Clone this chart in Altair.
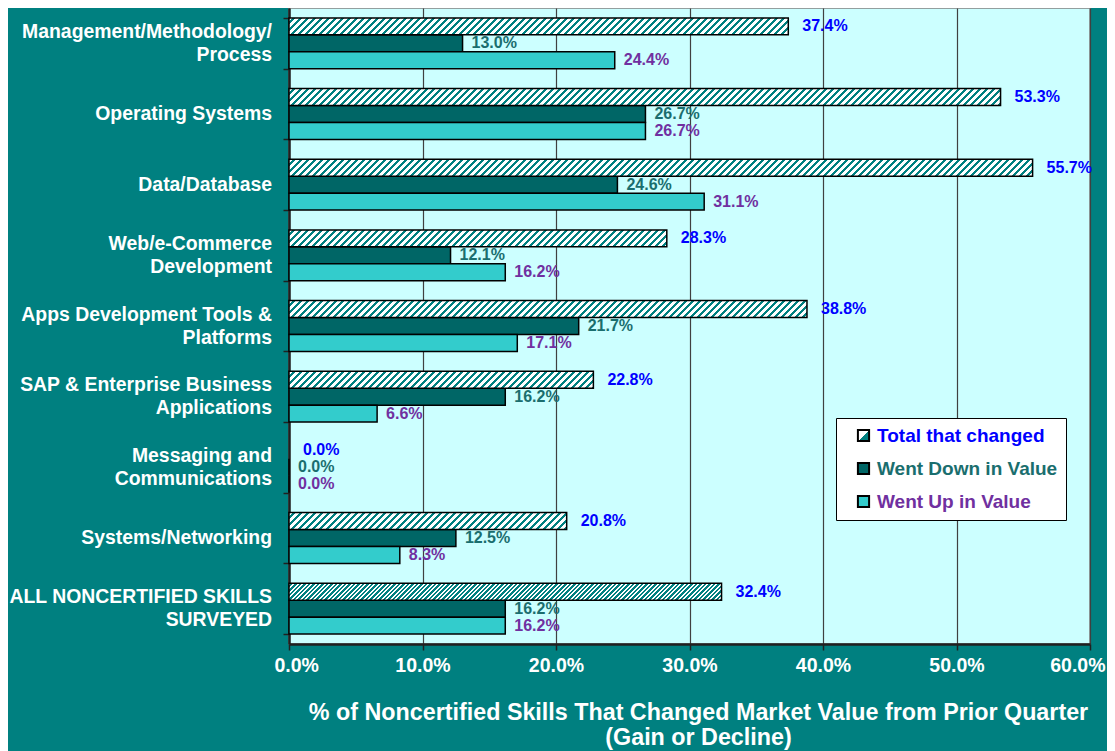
import altair as alt
import pandas as pd

categories = [
    "Management/Methodology/\nProcess",
    "Operating Systems",
    "Data/Database",
    "Web/e-Commerce\nDevelopment",
    "Apps Development Tools &\nPlatforms",
    "SAP & Enterprise Business\nApplications",
    "Messaging and\nCommunications",
    "Systems/Networking",
    "ALL NONCERTIFIED SKILLS\nSURVEYED",
]
total_changed = [37.4, 53.3, 55.7, 28.3, 38.8, 22.8, 0.0, 20.8, 32.4]
went_down = [13.0, 26.7, 24.6, 12.1, 21.7, 16.2, 0.0, 12.5, 16.2]
went_up = [24.4, 26.7, 31.1, 16.2, 17.1, 6.6, 0.0, 8.3, 16.2]
series_names = ["Total that changed", "Went Down in Value", "Went Up in Value"]
x_ticks = [0, 10, 20, 30, 40, 50, 60]

# style constants
BG = "#008080"
PLOT_BG = "#CCFFFF"
HATCH = "#008080"
DOWN_COL = "#006666"
UP_COL = "#33CCCC"
LBL_TOTAL = "#0000FF"
LBL_DOWN = "#1A6E6E"
LBL_UP = "#7030A0"
FONT = "Liberation Sans"
W, H = 801, 636
X_MAX = 60
P_IN, P_OUT = 0.28, 0.14

rows = []
for i, c in enumerate(categories):
    for s, vals in zip(series_names, [total_changed, went_down, went_up]):
        rows.append({"row": i, "category": c, "series": s, "value": vals[i]})
df = pd.DataFrame(rows)

step = H / (len(categories) - P_IN + 2 * P_OUT)
bar_h = step * (1 - P_IN) / 3


def hatch_gradient(value, period, dark_frac, light="#FFFFFF", dark=HATCH):
    w = value / X_MAX * W
    h = bar_h
    L = w + h * h / w
    a = (w + h) / L
    span = w + h
    stops = []
    k = 0
    while True:
        t0 = k * period / span
        if t0 >= 1:
            break
        th = min(1.0, t0 + period * (1 - dark_frac) / span)
        t1 = min(1.0, t0 + period / span)
        stops += [
            {"offset": round(t0, 5), "color": light},
            {"offset": round(th, 5), "color": light},
            {"offset": round(th, 5), "color": dark},
            {"offset": round(t1, 5), "color": dark},
        ]
        k += 1
    return {"gradient": "linear", "x1": 0, "y1": 0, "x2": a, "y2": a * h / w, "stops": stops}


y_enc = alt.Y(
    "category:N",
    sort=categories,
    scale=alt.Scale(domain=categories, paddingInner=P_IN, paddingOuter=P_OUT),
    axis=alt.Axis(
        title=None,
        labels=False,
        tickBand="extent",
        tickSize=6,
        tickColor="#202020",
        tickWidth=1.5,
        domainColor="#202020",
        domainWidth=2.5,
        grid=False,
    ),
)
yoff_enc = alt.YOffset(
    "series:N", scale=alt.Scale(domain=series_names, paddingInner=0, paddingOuter=0)
)
x_enc = alt.X(
    "value:Q",
    scale=alt.Scale(domain=[0, X_MAX], nice=False, zero=True),
    axis=alt.Axis(
        values=x_ticks,
        labelExpr="format(datum.value, '.1f') + '%'",
        labelColor="white",
        labelFont=FONT,
        labelFontSize=19.5,
        labelFontWeight="bold",
        labelPadding=6,
        labelBaseline="top",
        labelFlush=True,
        labelFlushOffset=15,
        tickSize=6,
        tickColor="#202020",
        tickWidth=1.5,
        domainColor="#202020",
        domainWidth=2.5,
        grid=True,
        gridColor="#404040",
        gridWidth=1.2,
        title=["% of Noncertified Skills That Changed Market Value from Prior Quarter", "(Gain or Decline)"],
        titleColor="white",
        titleFont=FONT,
        titleFontSize=23.3,
        titleFontWeight="bold",
        titleLineHeight=25,
        titleAlign="center",
        titleBaseline="top",
        titleX=409,
        titleY=57,
    ),
)

base = alt.Chart(df)

legend_label_fill = (
    "datum.value === 'Total that changed' ? '%s' : (datum.value === 'Went Down in Value' ? '%s' : '%s')"
    % (LBL_TOTAL, LBL_DOWN, LBL_UP)
)
total_icon = (
    "{gradient: 'linear', x1: 0, y1: 0, x2: 1, y2: 1, "
    "stops: [{offset: 0, color: '#ffffff'}, {offset: 0.5, color: '#ffffff'}, "
    "{offset: 0.5, color: '%s'}, {offset: 1, color: '%s'}]}" % (HATCH, HATCH)
)

bars_du = base.transform_filter(
    alt.FieldOneOfPredicate(field="series", oneOf=series_names[1:])
).mark_bar(stroke="black", strokeWidth=1.5).encode(
    x=x_enc,
    y=y_enc,
    yOffset=yoff_enc,
    color=alt.Color(
        "series:N",
        scale=alt.Scale(domain=series_names, range=[alt.ExprRef(expr=total_icon), DOWN_COL, UP_COL]),
        legend=alt.Legend(
            title=None,
            orient="none",
            legendX=547,
            legendY=410,
            fillColor="white",
            strokeColor="black",
            padding=8,
            rowPadding=12,
            symbolType="square",
            symbolSize=125,
            symbolStrokeColor="black",
            symbolStrokeWidth=2,
            symbolOpacity=1,
            symbolOffset=10,
            labelOffset=4,
            labelFont=FONT,
            labelFontSize=19,
            labelFontWeight="bold",
            labelLimit=400,
            labelColor=alt.ExprRef(expr=legend_label_fill),
        ),
    ),
)

layers = [bars_du]
for i, v in enumerate(total_changed):
    if v <= 0:
        continue
    last = i == len(categories) - 1
    period = 4.5 if last else 7
    layers.append(
        base.transform_filter(
            (alt.datum.row == i) & (alt.datum.series == series_names[0])
        ).mark_bar(fill=hatch_gradient(v, period, 0.5 if last else 0.45), stroke="black", strokeWidth=1.5).encode(
            x=x_enc, y=y_enc, yOffset=yoff_enc
        )
    )

for s, col, dx in zip(series_names, [LBL_TOTAL, LBL_DOWN, LBL_UP], [14, 9, 9]):
    layers.append(
        base.transform_filter(alt.datum.series == s)
        .transform_calculate(label="format(datum.value, '.1f') + '%'")
        .mark_text(
            align="left",
            baseline="middle",
            dx=dx,
            color=col,
            font=FONT,
            fontSize=16,
            fontWeight="bold",
        )
        .encode(x=x_enc, y=y_enc, yOffset=yoff_enc, text="label:N")
    )

# category labels (drawn as text beside the axis)
for multi, dy in [(False, 0), (True, -11.5)]:
    test = "indexof(datum.category, '\\n') %s 0" % (">=" if multi else "<")
    layers.append(
        base.transform_filter(alt.datum.series == series_names[0])
        .transform_filter(test)
        .transform_calculate(lines="split(datum.category, '\\n')")
        .mark_text(
            align="right",
            baseline="middle",
            dy=dy,
            color="white",
            font=FONT,
            fontSize=19.4,
            fontWeight="bold",
            lineHeight=23,
        )
        .encode(y=y_enc, x=alt.value(-17), text="lines:N")
    )

chart = (
    alt.layer(*layers)
    .properties(
        width=W,
        height=H,
        background=BG,
        padding={"left": 281, "top": 0, "right": 17, "bottom": 112},
        autosize=alt.AutoSizeParams(type="none"),
    )
    .configure_view(fill=PLOT_BG, stroke="#808080", strokeWidth=1.5)
)

chart.save("out.html", embed_options={"renderer": "svg", "actions": False})
